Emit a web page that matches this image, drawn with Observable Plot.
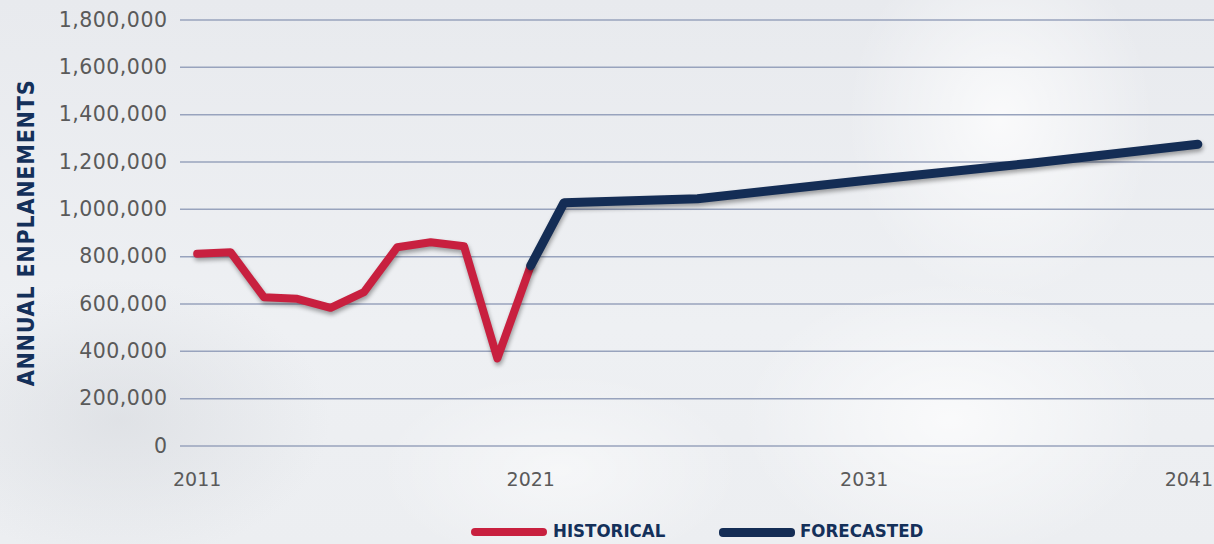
<!DOCTYPE html>
<html>
<head>
<meta charset="utf-8">
<script src="https://cdn.jsdelivr.net/npm/d3@7"></script>
<script src="https://cdn.jsdelivr.net/npm/@observablehq/plot@0.6"></script>
<style>
  html, body { margin: 0; padding: 0; }
  body {
    width: 1214px; height: 544px; overflow: hidden; position: relative;
    background:
      radial-gradient(ellipse 220px 260px at 1000px 120px, rgba(255,255,255,0.75), rgba(255,255,255,0) 70%),
      radial-gradient(ellipse 300px 200px at 950px 420px, rgba(255,255,255,0.7), rgba(255,255,255,0) 70%),
      radial-gradient(ellipse 260px 140px at 560px 470px, rgba(255,255,255,0.5), rgba(255,255,255,0) 70%),
      radial-gradient(ellipse 300px 200px at 120px 420px, rgba(210,213,218,0.5), rgba(210,213,218,0) 70%),
      linear-gradient(180deg, #e8eaee 0%, #eef0f3 60%, #eceef1 100%);
  }
  #chart { position: absolute; left: 0; top: 0; }
  #chart svg { background: transparent; overflow: visible; }
  #chart [aria-label="y-axis label"] text {
    font-family: "DejaVu Sans Condensed", "DejaVu Sans", sans-serif;
    font-stretch: condensed;
    font-weight: bold; font-size: 23px; fill: #14305a; letter-spacing: 0.8px;
  }
  #chart [aria-label="y-axis tick label"] text { letter-spacing: 0.5px; }
  .shadow { filter: drop-shadow(1px 3px 2px rgba(0,0,0,0.35)); }
  #legend { position: absolute; left: 0; top: 500px; width: 1214px; height: 44px; }
  .sw { position: absolute; height: 8px; border-radius: 4px; top: 28px; }
  .lt { position: absolute; top: 20px; font-family: "DejaVu Sans Condensed", "DejaVu Sans", sans-serif;
        font-stretch: condensed; font-weight: bold; font-size: 18.5px; color: #14305a; line-height: 22px; }
</style>
</head>
<body>
<div id="chart"></div>
<div id="legend">
  <div class="sw" style="left:471px;width:76px;background:#c8203f"></div>
  <div class="lt" style="left:553px">HISTORICAL</div>
  <div class="sw" style="left:719px;width:76px;height:9px;background:#142d55"></div>
  <div class="lt" style="left:800px">FORECASTED</div>
</div>
<script>
// Historical annual enplanements
const histYears = [2011, 2012, 2013, 2014, 2015, 2016, 2017, 2018, 2019, 2020, 2021];
const histValues = [812000, 819000, 629000, 622000, 584000, 650000, 840000, 861000, 844000, 370000, 762000];
// Forecasted annual enplanements
const fcYears = [2021, 2022, 2026, 2031, 2036, 2041];
const fcValues = [762000, 1028000, 1045000, 1122000, 1195000, 1275000];
// Axis ticks
const xTicks = [2011, 2021, 2031, 2041];
const yTicks = [0, 200000, 400000, 600000, 800000, 1000000, 1200000, 1400000, 1600000, 1800000];

const hist = histYears.map((y, i) => ({year: y, value: histValues[i]}));
const fc = fcYears.map((y, i) => ({year: y, value: fcValues[i]}));
const lastTick = xTicks[xTicks.length - 1];

const chart = Plot.plot({
  width: 1214,
  height: 500,
  marginLeft: 180,
  marginRight: 0,
  marginTop: 19.5,
  marginBottom: 54.5,
  style: {fontFamily: "DejaVu Sans, sans-serif", fontSize: "19px", color: "#5a5a5a", background: "transparent"},
  x: {domain: [2010.5, 2041.5]},
  y: {domain: [0, 1800000]},
  marks: [
    Plot.gridY(yTicks, {stroke: "#98a3bd", strokeOpacity: 1, strokeWidth: 1.5}),
    Plot.axisY(yTicks, {tickSize: 0, tickPadding: 13, tickFormat: d3.format(","), fontSize: 20.5,
      label: "ANNUAL ENPLANEMENTS", labelAnchor: "center", labelArrow: "none", labelOffset: 163}),
    Plot.axisX(xTicks.filter(d => d !== lastTick), {tickSize: 0, tickPadding: 26, tickFormat: d => String(d), label: null}),
    Plot.axisX([lastTick], {tickSize: 0, tickPadding: 26, tickFormat: d => String(d), label: null, dx: -9}),
    Plot.line(hist, {x: "year", y: "value", stroke: "#c8203f", strokeWidth: 8,
      strokeLinecap: "round", strokeLinejoin: "round", className: "shadow"}),
    Plot.line(fc, {x: "year", y: "value", stroke: "#142d55", strokeWidth: 9,
      strokeLinecap: "round", strokeLinejoin: "round", className: "shadow"})
  ]
});
document.getElementById("chart").appendChild(chart);
</script>
</body>
</html>
